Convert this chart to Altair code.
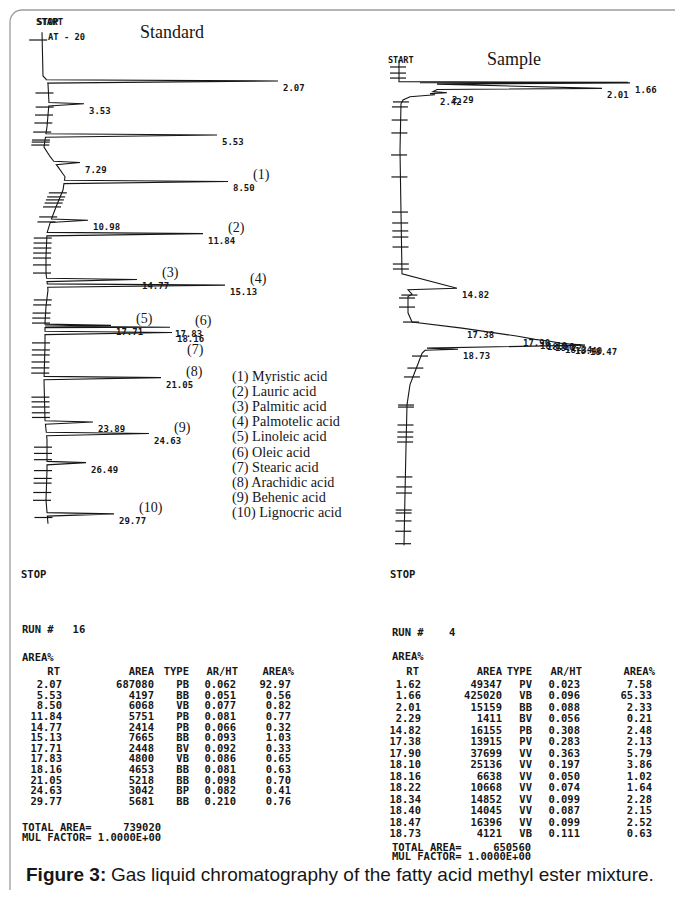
import altair as alt
import numpy as np
import pandas as pd

# ---------------- STANDARD run (RUN # 16) ----------------
std_run = 16
std_rt   = [2.07, 5.53, 8.50, 11.84, 14.77, 15.13, 17.71, 17.83, 18.16, 21.05, 24.63, 29.77]
std_area = [687080, 4197, 6068, 5751, 2414, 7665, 2448, 4800, 4653, 5218, 3042, 5681]
std_type = ["PB", "BB", "VB", "PB", "PB", "BB", "BV", "VB", "BB", "BB", "BP", "BB"]
std_arht = [0.062, 0.051, 0.077, 0.081, 0.066, 0.093, 0.092, 0.086, 0.081, 0.098, 0.082, 0.210]
std_pct  = [92.97, 0.56, 0.82, 0.77, 0.32, 1.03, 0.33, 0.65, 0.63, 0.70, 0.41, 0.76]
std_total = 739020

# peaks drawn on the standard trace (retention time, detector response)
std_peak_rt   = [2.07, 3.53, 5.53, 7.29, 8.50, 10.98, 11.84, 14.77, 15.13, 17.71, 17.83, 18.16,
                 21.05, 23.89, 24.63, 26.49, 29.77]
std_peak_resp = [234, 40, 173, 36, 184, 44, 159, 93, 181, 67, 126, 128, 117, 49, 105, 42, 70]
# baseline drift of the standard trace
std_base_t = [-1.05, 1.75, 1.95, 2.25, 3.50, 5.00, 6.30, 6.90, 7.57, 8.20, 9.05, 10.13, 10.97,
              11.80, 13.30, 14.36, 15.44, 16.50, 17.50, 19.00, 21.20, 23.76, 25.00, 27.00,
              28.90, 30.40]
std_base_s = [-2, -1, 2, 4, 5, 3, 0, 6, 14, 21, 19, 12, 7, 3, 2, 2, 4, 2, 1, 1, 0, 1, 3, 3, 2, 4]
# integrator time marks on the standard trace
std_tick_t = [-0.55, 2.84, 3.74, 4.25, 4.76, 5.34, 5.85, 5.98, 6.17, 9.23, 9.49, 9.68, 9.88,
              10.13, 10.77, 11.09, 12.12, 12.44, 12.76, 13.08, 13.40, 13.84, 14.36, 16.08,
              16.40, 16.92, 17.24, 17.56, 18.83, 19.28, 19.60, 20.05, 20.43, 20.76, 22.30,
              22.60, 22.93, 23.30, 23.60, 25.50, 25.90, 26.30, 27.00, 27.50, 27.80, 28.40,
              28.90, 30.00]

cmp_rt   = [8.50, 11.84, 14.77, 15.13, 17.71, 17.83, 18.16, 21.05, 24.63, 29.77]
cmp_name = ["Myristic acid", "Lauric acid", "Palmitic acid", "Palmotelic acid", "Linoleic acid",
            "Oleic acid", "Stearic acid", "Arachidic acid", "Behenic acid", "Lignocric acid"]

# ---------------- SAMPLE run (RUN # 4) ----------------
smp_run = 4
smp_rt   = [1.62, 1.66, 2.01, 2.29, 14.82, 17.38, 17.90, 18.10, 18.16, 18.22, 18.34, 18.40, 18.47, 18.73]
smp_area = [49347, 425020, 15159, 1411, 16155, 13915, 37699, 25136, 6638, 10668, 14852, 14045, 16396, 4121]
smp_type = ["PV", "VB", "BB", "BV", "PB", "PV", "VV", "VV", "VV", "VV", "VV", "VV", "VV", "VB"]
smp_arht = [0.023, 0.096, 0.088, 0.056, 0.308, 0.283, 0.363, 0.197, 0.050, 0.074, 0.099, 0.087, 0.099, 0.111]
smp_pct  = [7.58, 65.33, 2.33, 0.21, 2.48, 2.13, 5.79, 3.86, 1.02, 1.64, 2.28, 2.15, 2.52, 0.63]
smp_total = 650560

smp_trace_t = [0.20, 1.58, 1.62, 1.64, 1.66, 1.74, 2.01, 2.08, 2.22, 2.29, 2.35, 2.42, 2.55,
               2.75, 3.00, 6.00, 10.00, 13.90, 14.82, 14.92, 15.20, 15.35, 16.40, 16.99, 17.38,
               17.90, 18.10, 18.16, 18.22, 18.34, 18.40, 18.47, 18.66, 18.73, 18.80, 19.00,
               19.50, 20.00, 21.00, 22.30, 25.00, 28.00, 31.30]
smp_trace_s = [-1, -1, 228, 20, 230, 37, 202, 37, 33, 47, 30, 35, 10, 3, 1, 0, 1, 2, 57, 8, 12,
               8, 8, 12, 62, 118, 135, 142, 150, 160, 170, 185, 27, 58, 25, 22, 19, 16, 10, 7,
               6, 5, 4]
smp_label_rt = [1.66, 2.01, 2.29, 2.42, 14.82, 17.38, 17.90, 18.10, 18.16, 18.22, 18.34, 18.40, 18.47, 18.73]
smp_tick_t = [0.64, 1.03, 1.35, 2.88, 3.20, 4.04, 4.87, 6.28, 7.69, 9.94, 10.64, 11.15, 11.54,
              12.18, 13.27, 13.59, 15.26, 15.45, 16.03, 16.99, 19.17, 19.94, 20.51, 22.31,
              22.44, 23.59, 24.04, 24.36, 24.68, 26.92, 27.56, 27.95, 29.04, 29.23, 29.74,
              30.40, 31.20]

# ---------------- layout helpers ----------------
W, H = 665, 880


def P(v):  # page pixel -> view pixel (8px page margin + 1px padding)
    return v - 9


INK = "#161616"
MONO = "DejaVu Sans Mono"
SERIF = "Liberation Serif"
SANS = "Liberation Sans"
NB = "\u00a0"

STD_X = alt.Scale(domain=[0, 200], range=[P(44), P(244)], nice=False, zero=False)
STD_Y = alt.Scale(domain=[0, 30], range=[P(48.6), P(48.6 + 15.63 * 30)], nice=False, zero=False)
SMP_X = alt.Scale(domain=[0, 200], range=[P(400), P(600)], nice=False, zero=False)
SMP_Y = alt.Scale(domain=[0, 30], range=[P(57), P(57 + 15.6 * 30)], nice=False, zero=False)

ONE = pd.DataFrame({"k": [0]})


def note(txt, x, y, size=9, font=MONO, weight="bold", align="left"):
    return alt.Chart(ONE).mark_text(
        text=txt.replace(" ", NB), align=align, baseline="middle", font=font, fontSize=size,
        fontWeight=weight, color=INK
    ).encode(x=alt.value(P(x)), y=alt.value(P(y)))


# ---------------- standard chromatogram ----------------
wa, wb = 0.08, 0.14
verts = []
for t, s in zip(std_base_t, std_base_s):
    if not any(rt - wa <= t <= rt + wb for rt in std_peak_rt):
        verts.append((t, s))
for rt, resp in zip(std_peak_rt, std_peak_resp):
    verts.append((rt - wa, float(np.interp(rt - wa, std_base_t, std_base_s))))
    verts.append((rt, resp))
    verts.append((rt + wb, float(np.interp(rt + wb, std_base_t, std_base_s))))
verts.sort(key=lambda v: v[0])
std_trace = pd.DataFrame({"t": [v[0] for v in verts], "s": [v[1] for v in verts]})
std_trace["i"] = range(len(std_trace))

std_ticks = pd.DataFrame({"t": std_tick_t})
std_ticks["b"] = np.interp(std_ticks["t"], std_base_t, std_base_s)
std_ticks["x1"] = std_ticks["b"] - 13
std_ticks["x2"] = std_ticks["b"] + 5

std_peaks = pd.DataFrame({"t": std_peak_rt, "s": std_peak_resp,
                          "lab": [f"{v:.2f}" for v in std_peak_rt]})
resp_of = dict(zip(std_peak_rt, std_peak_resp))
cmp_df = pd.DataFrame({"t": cmp_rt, "s": [resp_of[v] for v in cmp_rt],
                       "lab": [f"({i + 1})" for i in range(len(cmp_rt))],
                       "n": list(range(1, len(cmp_rt) + 1))})

std_enc = dict(x=alt.X("s:Q", scale=STD_X, axis=None), y=alt.Y("t:Q", scale=STD_Y, axis=None))
std_line = alt.Chart(std_trace).mark_line(color=INK, strokeWidth=1.1).encode(
    order=alt.Order("i:Q"), **std_enc)
std_tk = alt.Chart(std_ticks).mark_rule(color=INK, strokeWidth=1.2).encode(
    x=alt.X("x1:Q", scale=STD_X, axis=None), x2="x2:Q", y=alt.Y("t:Q", scale=STD_Y, axis=None))
std_lab = alt.Chart(std_peaks).mark_text(
    align="left", baseline="middle", dx=5, dy=7, font=MONO, fontWeight="bold",
    fontSize=9, color=INK).encode(text="lab:N", **std_enc)
cmp_lab = alt.Chart(cmp_df).transform_filter("datum.n != 7").mark_text(
    align="left", baseline="middle", dx=25, dy=-6, font=SERIF, fontSize=14, color=INK).encode(
    text="lab:N", **std_enc)
cmp_lab7 = alt.Chart(cmp_df).transform_filter("datum.n == 7").mark_text(
    align="left", baseline="middle", dx=15, dy=18, font=SERIF, fontSize=14, color=INK).encode(
    text="lab:N", **std_enc)

std_group = alt.layer(
    std_line, std_tk, std_lab, cmp_lab, cmp_lab7,
    note("START", 36, 22), note("STOP", 37, 22),
    note("AT - 20", 48, 37, size=8.8),
    note("Standard", 172, 33, size=18, font=SERIF, weight="normal", align="center"),
    note("STOP", 21, 575, size=10.5),
)

# ---------------- sample chromatogram ----------------
smp_trace = pd.DataFrame({"t": smp_trace_t, "s": smp_trace_s})
smp_trace["i"] = range(len(smp_trace))
smp_ticks = pd.DataFrame({"t": smp_tick_t})
smp_ticks["b"] = np.interp(smp_ticks["t"], smp_trace_t, smp_trace_s)
smp_ticks["x1"] = smp_ticks["b"] - 9
smp_ticks["x2"] = smp_ticks["b"] + 7
tip_of = dict(zip(smp_trace_t, smp_trace_s))
smp_peaks = pd.DataFrame({"t": smp_label_rt, "s": [tip_of[v] for v in smp_label_rt],
                          "lab": [f"{v:.2f}" for v in smp_label_rt]})

smp_enc = dict(x=alt.X("s:Q", scale=SMP_X, axis=None), y=alt.Y("t:Q", scale=SMP_Y, axis=None))
smp_line = alt.Chart(smp_trace).mark_line(color=INK, strokeWidth=1.1).encode(
    order=alt.Order("i:Q"), **smp_enc)
smp_tk = alt.Chart(smp_ticks).mark_rule(color=INK, strokeWidth=1.2).encode(
    x=alt.X("x1:Q", scale=SMP_X, axis=None), x2="x2:Q", y=alt.Y("t:Q", scale=SMP_Y, axis=None))
smp_lab = alt.Chart(smp_peaks).mark_text(
    align="left", baseline="middle", dx=5, dy=7, font=MONO, fontWeight="bold",
    fontSize=9, color=INK).encode(text="lab:N", **smp_enc)

smp_group = alt.layer(
    smp_line, smp_tk, smp_lab,
    note("START", 388, 60, size=8.5),
    note("Sample", 514, 60, size=18, font=SERIF, weight="normal", align="center"),
    note("STOP", 390, 575, size=10.5),
)

# ---------------- compound legend ----------------
leg_df = pd.DataFrame({"k": list(range(len(cmp_name))),
                       "lab": [f"({i + 1}) {n}" for i, n in enumerate(cmp_name)]})
legend = alt.Chart(leg_df).mark_text(
    align="left", baseline="middle", font=SERIF, fontSize=14.2, color=INK).encode(
    x=alt.value(P(232)),
    y=alt.Y("k:Q", scale=alt.Scale(domain=[0, 9], range=[P(377), P(513)], nice=False, zero=False), axis=None),
    text="lab:N")


# ---------------- integrator report tables ----------------
def report(run, rts, areas, types, arhts, pcts, total, x0, cols, y_first, y_last, y_hdr,
           y_area, y_run, y_tot, y_mul):
    n = len(rts)
    df = pd.DataFrame({
        "k": list(range(n)),
        "rt": [f"{v:.2f}" for v in rts],
        "area": [f"{v:d}" for v in areas],
        "type": types,
        "arht": [f"{v:.3f}" for v in arhts],
        "pct": [f"{v:.2f}" for v in pcts],
    })
    ysc = alt.Scale(domain=[0, n - 1], range=[P(y_first), P(y_last)], nice=False, zero=False)
    layers = []
    for col, xr in zip(["rt", "area", "type", "arht", "pct"], cols):
        layers.append(alt.Chart(df).mark_text(
            align="right", baseline="middle", font=MONO, fontWeight="bold", fontSize=10.5,
            color=INK).encode(x=alt.value(P(xr)), y=alt.Y("k:Q", scale=ysc, axis=None),
                              text=f"{col}:N"))
    heads = ["RT", "AREA", "TYPE", "AR/HT", "AREA%"]
    hx = [cols[0] - 2, cols[1], cols[2], cols[3] + 2, cols[4] + 3]
    for h, xr in zip(heads, hx):
        layers.append(note(h, xr, y_hdr, size=10.5, align="right"))
    layers.append(note(f"RUN #   {run}" if run >= 10 else f"RUN #    {run}", x0, y_run, size=10.5))
    layers.append(note("AREA%", x0, y_area, size=10.5))
    layers.append(note(f"TOTAL AREA={total:>11d}", x0, y_tot, size=10.5))
    layers.append(note("MUL FACTOR= 1.0000E+00", x0, y_mul, size=10.5))
    return alt.layer(*layers)


std_table = report(std_run, std_rt, std_area, std_type, std_arht, std_pct, std_total,
                   22, [62, 154, 189, 236, 291], 685, 802, 672, 658, 630, 828, 838)
smp_table = report(smp_run, smp_rt, smp_area, smp_type, smp_arht, smp_pct, smp_total,
                   392, [421, 502, 532, 580, 652], 685, 834, 672, 657, 633, 848, 857)

# ---------------- caption & frame ----------------
caption = alt.layer(
    note("Figure 3:", 26, 875, size=19, font=SANS, weight="bold"),
    note("Gas liquid chromatography of the fatty acid methyl ester mixture.", 111, 875,
         size=19, font=SANS, weight="normal"),
)

frame = alt.Chart(ONE).mark_rect(
    fillOpacity=0, stroke="#9c9c9c", strokeWidth=1.3, cornerRadius=12
).encode(x=alt.value(1), x2=alt.value(760), y=alt.value(1), y2=alt.value(1000))

chart = alt.layer(
    frame, std_group, smp_group, legend, std_table, smp_table, caption
).resolve_scale(
    x="independent", y="independent"
).properties(
    width=W, height=H,
    padding={"left": 1, "top": 1, "right": 1, "bottom": 1},
    autosize=alt.AutoSizeParams(type="none"),
    background="white",
).configure_view(stroke=None)

chart.save("out.html", embed_options={"renderer": "svg", "actions": False})
